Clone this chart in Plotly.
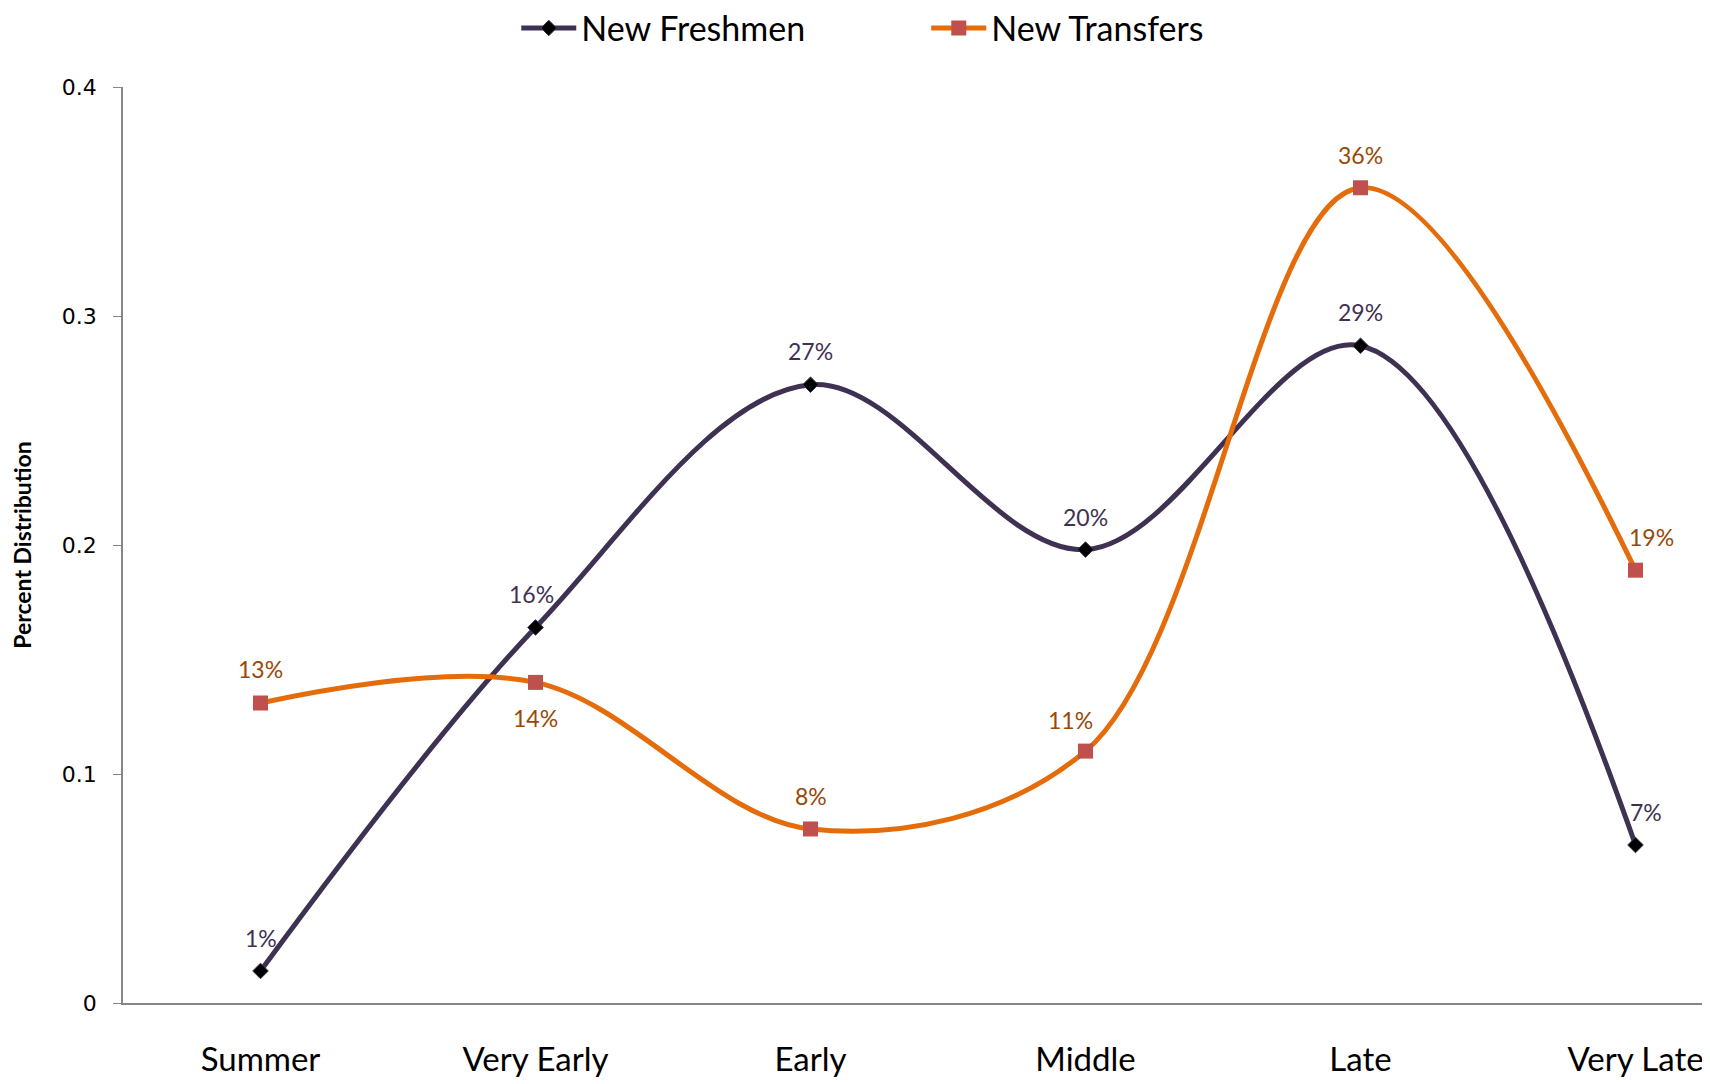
import plotly.graph_objects as go

# survey periods and share of students in each
periods = ["Summer", "Very Early", "Early", "Middle", "Late", "Very Late"]
freshmen = [0.014, 0.164, 0.270, 0.198, 0.287, 0.069]
transfers = [0.131, 0.140, 0.076, 0.110, 0.356, 0.189]
freshmen_labels = ["1%", "16%", "27%", "20%", "29%", "7%"]
transfers_labels = ["13%", "14%", "8%", "11%", "36%", "19%"]

# label offsets (px) relative to each point
freshmen_shift = [(0, 33), (-4, 33), (0, 34), (0, 33), (0, 34), (10, 33)]
transfers_shift = [(0, 34), (0, -36), (0, 33), (-15, 31), (0, 33), (16, 33)]

FONT = "Lato"
PURPLE = "#3F3151"
ORANGE = "#E46C0A"

fig = go.Figure()

fig.add_trace(go.Scatter(
    x=periods, y=freshmen, name="New Freshmen",
    mode="lines+markers",
    line=dict(color=PURPLE, width=5, shape="spline", smoothing=1),
    marker=dict(symbol="diamond", size=12, color="black", line=dict(color=PURPLE, width=1)),
))

fig.add_trace(go.Scatter(
    x=periods, y=transfers, name="New Transfers",
    mode="lines+markers",
    line=dict(color=ORANGE, width=5, shape="spline", smoothing=1),
    marker=dict(symbol="square", size=15, color="#C0504D"),
))

# data labels
for x, y, t, (dx, dy) in zip(periods, freshmen, freshmen_labels, freshmen_shift):
    fig.add_annotation(x=x, y=y, text=t, showarrow=False, xshift=dx, yshift=dy,
                       font=dict(family=FONT, size=23, color=PURPLE))
for x, y, t, (dx, dy) in zip(periods, transfers, transfers_labels, transfers_shift):
    fig.add_annotation(x=x, y=y, text=t, showarrow=False, xshift=dx, yshift=dy,
                       font=dict(family=FONT, size=23, color="#984807"))

fig.update_layout(
    width=1710, height=1084,
    paper_bgcolor="white", plot_bgcolor="white",
    margin=dict(l=115, r=0, t=79, b=89, autoexpand=False),
    font=dict(family=FONT, color="black"),
    showlegend=True,
    legend=dict(
        orientation="h", xref="container", yref="paper",
        x=0.537, xanchor="center", y=1.064, yanchor="middle",
        font=dict(family=FONT, size=34, color="black"),
        itemwidth=55, entrywidth=340, traceorder="normal",
    ),
)

fig.update_xaxes(
    range=[-0.5, 5.3], automargin=False,
    showline=True, linecolor="#868686", linewidth=1.5,
    showgrid=False, zeroline=False, ticks="",
    tickfont=dict(family=FONT, size=33, color="black"),
    ticklabelstandoff=27,
)

fig.update_yaxes(
    range=[0, 0.4], dtick=0.1, automargin=False,
    showline=True, linecolor="#868686", linewidth=1.5,
    showgrid=False, zeroline=False,
    ticks="outside", ticklen=8, tickcolor="#868686",
    tickfont=dict(family="DejaVu Sans", size=22, color="black"),
    ticklabelstandoff=12,
    title=dict(text="<b>Percent Distribution</b>", font=dict(family=FONT, size=23, color="black"), standoff=38),
)

fig.write_html("out.html")
